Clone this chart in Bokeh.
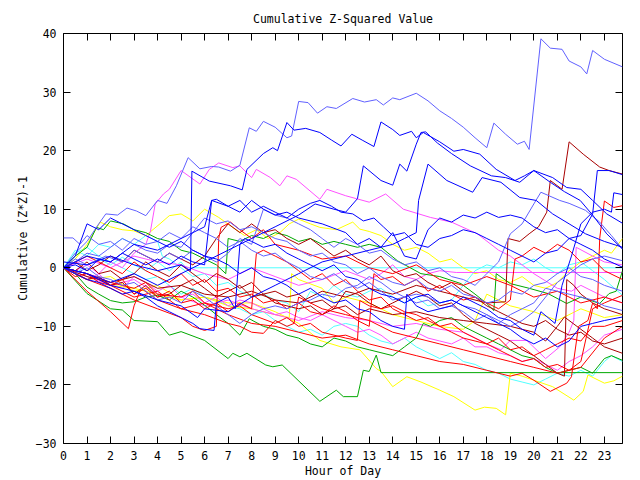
from bokeh.plotting import figure
from bokeh.models import Range1d, FixedTicker, LinearAxis
from bokeh.embed import file_html
from bokeh.resources import INLINE

# ---------------- data (hour of day, cumulative z^2-1) ----------------
hour_ticks = list(range(24))
value_ticks = [-30, -20, -10, 0, 10, 20, 30, 40]
x_start, x_end = 0, 23.77
y_start, y_end = -30, 40

lb1_h = [0, 0.5, 1, 1.5, 1.8, 2.3, 2.7, 3.1, 3.5, 4.0, 4.4, 4.8, 5.3, 5.8, 6.3, 6.6, 7.1, 7.5, 7.9, 8.2, 8.5, 9.0, 9.5, 9.7, 10.0, 10.4, 10.8, 11.2, 11.6, 12.3, 12.8, 13.3, 13.6, 14.0, 14.3, 15.0, 15.5, 16.0, 16.5, 17.0, 17.5, 18.0, 18.3, 18.8, 19.3, 19.6, 19.8, 20.3, 20.7, 21.2, 21.5, 22.0, 22.25, 22.5, 23.0, 23.77]
lb1_v = [0, 2.5, 4.5, 7.5, 9.2, 9.0, 10.2, 9.7, 8.9, 11.5, 11, 14, 18.8, 16.9, 17.3, 17.2, 16.5, 17.5, 23.9, 23.3, 25, 24, 22.2, 22.5, 28.4, 28.2, 26.4, 27.5, 27.2, 28.9, 28.3, 28.7, 27.8, 29.0, 28.7, 29.8, 28.5, 26.8, 25.5, 24, 22.2, 20.5, 24.7, 22.8, 21.1, 21.6, 20.2, 39.1, 37.5, 37.3, 35.3, 34.3, 33.1, 37.1, 35.6, 34.3]

lb2_h = [0, 0.5, 1, 1.8, 2.5, 3, 3.5, 4, 4.5, 5, 5.5, 6, 6.5, 7, 7.5, 8, 8.5, 9, 9.5, 10, 10.5, 11, 11.5, 12, 12.5, 13, 13.5, 14, 14.5, 15, 15.5, 16, 16.5, 17, 17.5, 18, 18.5, 19, 19.5, 20, 20.3, 21.1, 21.5, 22.2, 22.8, 23.3, 23.77]
lb2_v = [0, 1.5, 0.5, 2, 1, 3, 2, 1, 2.5, 1.5, 3, 2, 1, 2.5, 5, 4, 10, 9, 8.5, 7.5, 6.5, 5, 3.5, 5, 4, 2.5, 3, 1.5, 0.5, 1, -0.5, 0, -1.5, -2, -3, -1, 1, 5.8, 7.5, 10.9, 12.9, 11.5, 11, 9.8, 7.8, 5.5, 3.2]

lb3_h = [0, 0.4, 0.7, 1, 1.5, 2, 2.5, 3, 3.5, 4, 4.5, 5, 5.5, 6, 6.5, 7, 7.5, 8, 8.5, 9, 9.5, 10, 10.5, 11, 11.5, 12, 12.5, 13, 13.5, 14, 14.5, 15, 15.5, 16, 16.5, 17, 17.5, 18, 18.5, 19, 19.5, 20, 20.5, 21, 21.5, 22, 22.5, 23, 23.77]
lb3_v = [5.1, 5.1, 4.0, 5.5, 4, 4.5, 3, 5, 4, 4.5, 6, 5, 7, 6, 5, 3.5, 4.5, 3, 2, 2.5, 1, 0, -1.5, -2, -1, -2.5, -3.5, -2.5, -4, -5.5, -5, -6, -5.5, -7, -6.5, -7.5, -9, -8, -9.5, -8, -7, -6, -3.5, -4, -4.5, -5, -5.5, -6.5, -7.3]

lb4_h = [0, 0.5, 1, 1.5, 2, 2.5, 3, 3.5, 4, 4.5, 5, 5.5, 6, 6.5, 7, 7.5, 8, 8.5, 9, 9.5, 10, 10.5, 11, 11.5, 12, 12.5, 13, 13.5, 14, 14.5, 15, 15.5, 16, 16.5, 17, 17.5, 18, 18.5, 19, 19.5, 20, 20.5, 21, 21.5, 22, 22.5, 23, 23.77]
lb4_v = [0, -1, 0, -1.5, -2, -3, -2.5, -4, -5.5, -5, -6, -4, -5, -6.5, -8, -9.5, -8, -7, -6.5, -7, -6, -5.5, -4.5, -5, -3.5, -3, -1.5, -2.5, -4, -5, -4.5, -5, -6, -5.5, -6.5, -7, -8, -9, -10, -9, -7.5, -5, -2.5, -1, 0.5, 1.5, 2, 1.2]

lb5_h = [0, 0.5, 1, 1.5, 2, 2.5, 3, 3.5, 4, 4.5, 5, 5.5, 6, 6.5, 7, 7.5, 8, 8.5, 9, 9.5, 10, 10.5, 11, 11.5, 12, 12.5, 13, 13.5, 14, 14.5, 15, 15.5, 16, 16.5, 17, 17.5, 18, 18.5, 19, 19.5, 20, 20.5, 21, 21.5, 22, 22.5, 23, 23.77]
lb5_v = [0, 1, 2.5, 2, 3.5, 5, 4, 3, 2.5, 4, 3.5, 6, 8.5, 7.5, 8, 6.5, 7, 6, 5, 4.5, 3, 2, 2.5, 1, 0.5, -1, 0, -1.5, -2.5, -3, -2, -3.5, -4, -3, -4.5, -5, -6, -5.5, -4, -4.5, -3, -2.5, -1, 0, -1.5, -2, -3, -4]

b1_h = [0, 1, 2, 3, 4, 5, 5.4, 5.46, 6.2, 7.1, 7.6, 7.8, 8.5, 8.9, 9.1, 9.5, 9.8, 10.3, 10.9, 11.4, 11.8, 12.26, 12.7, 13.2, 13.5, 14.0, 14.3, 14.8, 15.0, 15.3, 16.0, 16.6, 17.0, 17.7, 18.4, 19.2, 19.6, 20.0, 20.8, 21.4, 22.0, 22.5, 23.1, 23.77]
b1_v = [1, 0.5, 2, 0.5, -0.5, 0.5, -0.5, 16.5, 14.8, 14.0, 13.3, 16.8, 19.5, 20.5, 20, 24.8, 23.5, 23.8, 23.1, 21.8, 20.8, 22.8, 21.8, 20.7, 24.9, 23.6, 22.6, 23.3, 22.2, 23.1, 21.5, 19.9, 20.2, 19.4, 16.8, 14.9, 15.7, 16.6, 15.4, 13.7, 13.4, 11.5, 9.2, 7.6]

b2_h = [0, 1, 2, 3, 4, 5, 6, 7, 8, 9, 10, 10.7, 11.5, 12, 12.5, 12.75, 13.5, 14, 14.3, 14.6, 15, 15.2, 15.4, 15.9, 16.5, 17.3, 18.2, 18.8, 19.4, 20, 20.7, 21.3, 21.97, 22.5, 23.1, 23.77]
b2_v = [0, -1, -2.5, -1, -3, -1, 1, 3, 5, 7, 9, 10.9, 10, 9.5, 11.8, 17.4, 14.9, 14.1, 17.7, 16.5, 21.1, 23.1, 23.2, 21.3, 19.5, 17.4, 15.7, 15.4, 14.6, 16.6, 14.6, 13, 11.5, 9, 5.8, 3.2]

b3_h = [0, 1, 2, 3, 4, 5, 6, 6.3, 7, 7.5, 8, 8.5, 9, 9.5, 10, 11, 12, 12.5, 13, 13.5, 14, 14.5, 15, 15.5, 16, 16.5, 17, 17.5, 18, 18.5, 19, 19.5, 20, 20.5, 21, 21.5, 22, 22.5, 22.7, 23.2, 23.77]
b3_v = [0, 2, 1, 4, 3, 5, 7, 11.5, 10.5, 9.5, 11.5, 10, 9, 9.5, 8.5, 7.5, 6, 4, 5, 3.5, 6, 2, 1.5, 6.5, 8.5, 7.8, 9, 8.5, 9.5, 8.6, 9, 8.5, 7, 6, 6.5, 5, 5.5, 9.2, 16.6, 16.6, 15.9]

b4_h = [0, 1, 2, 3, 4, 5, 5.7, 6, 7, 8, 9, 10, 11, 12, 13, 14, 14.5, 15, 15.1, 15.5, 16.3, 17.4, 17.8, 18.6, 19.4, 20.1, 20.8, 21.5, 22.2, 23, 23.77]
b4_v = [0, -1, -3, -4, -5.5, -6.5, -8.5, -7, -7.5, -5, -3, -1, 1, 2, 3, 4, 5, 6, 11.5, 17.7, 14.9, 12.9, 15.4, 14.6, 12, 11.5, 9.2, 7.5, 5.8, 4.5, 3.5]

b5_h = [0, 0.5, 1, 1.5, 2, 2.5, 3, 3.5, 4, 4.5, 5, 5.5, 6, 6.5, 7, 7.5, 8, 8.5, 9, 9.5, 10, 10.5, 11, 11.5, 12, 12.5, 13, 13.5, 14, 14.5, 14.6, 15, 15.5, 16, 16.5, 17, 17.5, 18, 18.5, 19, 19.5, 20, 20.3, 20.9, 21.2, 21.6, 22, 22.5, 23, 23.3, 23.4, 23.77]
b5_v = [0, 2, 7.5, 6.5, 8.5, 7.5, 6.5, 5.5, 4.5, 3.5, 4.5, 3, 2, 1.5, 0.5, -1, 0, -1.5, -2, -3, -4.5, -3.5, -5, -6, -5.5, -7, -7.5, -9, -10, -10.5, -4.5, -6.5, -7.5, -7, -6.5, -5, -6, -7, -8.5, -9, -10.5, -11.5, -7.5, -9.5, -3, 2, 7.5, 9.5, 10, 9.5, 12.8, 12.5]

b6_h = [0, 0.5, 1, 1.5, 2, 2.5, 3, 3.5, 4, 4.5, 5, 5.5, 5.8, 6.4, 6.5, 7, 7.3, 7.5, 7.7, 8, 8.5, 9, 9.5, 10, 10.5, 11, 11.5, 12, 12.5, 13, 13.5, 14, 14.5, 15, 15.5, 16, 16.5, 17, 17.5, 18, 18.5, 19, 19.5, 20, 20.5, 21, 21.5, 22, 22.5, 23, 23.77]
b6_v = [0, -1, -2, -2.5, -3.5, -4.5, -4, -5, -6.5, -7.5, -8.5, -9.5, -10.4, -10.7, -6, -5, -7, 4, 5, 4.5, 3.5, 4, 2.5, 1.5, 0.5, -0.5, 0.5, -1.5, -2, -3.5, -4.5, -5, -6, -5, -4.5, -6, -5.5, -6.5, -7.5, -8.5, -9.5, -10.5, -12, -13, -12, -13.5, -12.5, -10, -9.5, -9, -8.4]

b7_h = [0, 0.5, 1, 1.5, 2, 2.5, 3, 3.5, 4, 4.5, 5, 5.5, 6, 6.3, 6.5, 7, 7.5, 8, 8.5, 9, 9.5, 10, 10.5, 10.9, 11.4, 11.8, 12.3, 12.75, 13.2, 13.6, 14, 14.5, 15, 15.5, 16, 16.5, 17, 17.5, 18, 18.5, 19, 19.5, 20, 20.5, 21, 21.5, 22, 22.5, 23, 23.77]
b7_v = [0, 0.5, -0.5, 1.5, 1, 2.5, 1.5, 0.5, 1.5, 0.5, 2, 1, 0.5, 11.5, 11.7, 10.5, 11.5, 9.5, 10.5, 9.5, 8.5, 10, 11, 11.5, 10.5, 9.5, 9.2, 8, 8.5, 7, 5.5, 6, 4, 3.5, 5, 5.5, 6.5, 6, 5, 4, 3, 2, 1, 2.5, 3, 5, 4, 3, 1.5, 0.1]

r1_h = [0, 1, 2, 3, 4, 5, 6, 7, 8, 9, 10, 11, 12, 13, 14, 15, 16, 17, 18, 19, 19.5, 20, 20.7, 21.4, 21.6, 21.9, 22.3, 22.5, 22.7, 22.8, 23.0, 23.4, 23.77]
r1_v = [0, -1, -3, -5, -4, -7, -6, -8, -9.5, -10, -11, -12, -11.5, -13, -14, -15, -16, -16.5, -17.5, -18.5, -18, -19.2, -21.1, -19.7, -18.6, -10, -9, -6, -7, 5, 11.4, 10.3, 10.6]

r3_h = [0, 1, 2, 3, 4, 5, 5.5, 6, 6.5, 6.6, 6.7, 7.1, 7.5, 8, 8.5, 9, 10, 11, 12, 13, 14, 15, 16, 17, 18, 19, 20, 21, 22, 23, 23.77]
r3_v = [0, -2, -3.5, -5.5, -7, -8.5, -10, -10.7, -10, 5, 6.9, 7.8, 6.5, 5, 6.5, 4, 3, 1.5, 2, 0, -1, 0.5, -2, -3, -1.5, -3, -5, -4, -6, -5, -6]

r4_h = [0, 0.5, 1, 1.5, 2, 2.5, 3, 3.5, 4, 4.5, 5, 5.5, 6, 6.5, 7, 7.5, 8, 8.2, 8.5, 9, 9.5, 10, 10.5, 11, 11.5, 12, 12.5, 13, 13.5, 14, 14.5, 15, 15.5, 16, 16.5, 17, 17.5, 18, 18.5, 19, 19.5, 20, 20.5, 21, 21.5, 22, 22.5, 23, 23.77]
r4_v = [0, -1.5, -1, -2.5, -3, -2, -4.5, -3.5, -5, -4, -6, -5.5, -7, -6, -7.5, -6, -7, 2.4, 3, 2, 1, -0.5, -2, -1, -3, -2, -4, -5.5, -5, -7, -8, -9, -8.5, -10, -11, -12, -12.5, -13, -12, -14, -13.5, -15, -14, -13, -12, -12.5, -10, -10, -9]

r5_h = [0, 1, 2, 2.76, 3.0, 3.3, 4, 5, 6, 7, 7.5, 8, 8.5, 9, 9.5, 9.8, 10, 11, 12, 13, 14, 15, 16, 17, 18, 19, 20, 21, 22, 23, 23.77]
r5_v = [0, -4, -7.5, -10.4, -6.5, -3.5, -5.5, -7, -8, -9.5, -10, -11, -11.2, -9, -10, -9.5, -5, -7, -8, -9, -11, -12, -13, -14, -15, -16, -17, -18, -17, -12, -10]

r6_h = [0, 1, 2, 3, 3.5, 4, 5, 5.5, 6, 7, 7.5, 8, 9, 9.5, 10, 10.5, 11, 11.5, 12, 12.5, 12.6, 13, 13.5, 14, 14.5, 15, 15.5, 16, 16.5, 17, 17.5, 18, 18.5, 19, 19.5, 20, 20.5, 21, 21.5, 22, 22.5, 23, 23.77]
r6_v = [0, -1, -2.5, -3.5, -2.5, -4.5, -5, -4, -6, -7, -6.5, -8, -9.5, -8.5, -10, -9.5, -11, -11.5, -12, -12.4, -5.6, -6.5, -7, -6.5, -7.5, -8, -9, -10, -9.5, -11, -12, -13, -14, -15, -16, -15.5, -17, -16.5, -17.5, -16, -7, -6, -4.7]

r7_h = [0, 1, 1.5, 2, 2.5, 3, 3.5, 4, 4.5, 5, 5.5, 6, 6.5, 7, 7.5, 8, 8.5, 9, 9.5, 10, 10.5, 11, 11.5, 12, 12.5, 13, 13.2, 13.5, 14, 14.5, 15, 15.5, 16, 16.5, 17, 17.5, 18, 18.5, 19, 19.2, 19.5, 20, 20.5, 21, 21.5, 22, 22.5, 23, 23.77]
r7_v = [0, 2, 1, 0, -1, 1, -0.5, -1.5, -2.5, -1, -3, -2, -4, -3.5, -5, -4.5, -6, -5.5, -7, -6, -7.5, -8, -6.5, -7.5, -9, -10, -1, -2, -1.5, -3, -2, -4, -3, -4.5, -5.5, -5, -6, -7, -5.5, 1.5, 2, 3.5, 2.5, 4, 3, 1, 1.5, -0.5, -2]

dr1_h = [0, 1, 2, 3, 4, 5, 6, 7, 8, 9, 10, 11, 12, 13, 14, 15, 16, 17, 18, 18.8, 18.9, 19.4, 19.8, 20.2, 20.55, 20.7, 21.2, 21.5, 22.1, 22.8, 23.2, 23.77]
dr1_v = [0, -1.5, -2.5, -1.5, -3.5, -3, -4.5, -5, -4, -5.5, -6, -4, -5, -3.5, -4.5, -3, -4, -5, -6, -5.8, 5, 4.5, 5.8, 7, 9.5, 14.9, 13.4, 21.5, 19.4, 17.2, 16.6, 16.0]

dr2_h = [0, 0.5, 1, 1.5, 2, 2.5, 3, 3.5, 4, 4.5, 5, 5.5, 6, 6.5, 7, 7.5, 8, 8.5, 9, 9.5, 10, 10.5, 11, 11.5, 12, 12.5, 13, 14, 15, 16, 17, 18, 19, 20, 20.5, 21, 21.3, 22, 22.5, 23, 23.77]
dr2_v = [0, -0.5, 1, -1, -0.5, -2, -1, 1, -0.5, -1.5, 0.5, -1, -2.5, -1, -2, -3.5, -2.5, -4.5, -4, -5, -4.5, -6, -5.5, -7, -6.5, -8, -7, -8, -7.5, -8.5, -9, -9.5, -10, -11, -12.5, -10, -8.4, -10.5, -12, -13.5, -14.6]

dr3_h = [0, 0.5, 1, 1.5, 2, 2.5, 3, 3.5, 4, 4.5, 5, 5.5, 6, 6.5, 7, 7.5, 8, 8.5, 9, 9.5, 10, 10.5, 11, 11.5, 12, 12.5, 13, 13.5, 14, 14.5, 15, 15.5, 16, 16.5, 17, 17.5, 18, 18.5, 19, 19.5, 20, 20.5, 21, 21.3, 21.4, 21.7, 22, 22.5, 23, 23.77]
dr3_v = [0, -1, -2, -1.5, -3, -2.5, -4.5, -3, -5, -4.5, -3, -2, -3.5, -5, -4, -3, -5, -4.5, -6, -6.5, -7, -6.5, -8, -7, -4, -4.5, -6, -7, -6, -5, -4, -5, -6.5, -6, -8, -9.5, -10.5, -11.5, -12.5, -14, -15, -16.5, -18, -18.5, -2, -3, -4.5, -6, -7, -8]

dr4_h = [0, 0.5, 1, 1.5, 2, 2.5, 3, 3.5, 4, 4.5, 5, 5.5, 6, 6.5, 7, 7.5, 8, 8.5, 9, 9.5, 10, 10.5, 11, 11.5, 12, 12.5, 13, 13.5, 14, 14.5, 15, 15.5, 16, 16.5, 17, 17.5, 18, 18.5, 19, 19.5, 20, 20.5, 21, 21.5, 22, 22.5, 23, 23.77]
dr4_v = [0, 1, -0.5, 0.5, 2, 1, 3, 2, 1, 2.5, 1.5, 0.5, 2, 5, 7.5, 6, 7.5, 6, 6.5, 5, 4, 5, 3.5, 2, 3, 1.5, 0.5, 2, -0.5, -1.5, -1, -2.5, -3.5, -2.5, -4, -5, -6.5, -7.5, -8.5, -9.5, -10, -9, -10.5, -11.5, -11, -12.5, -13, -12]

g1_h = [0, 1, 2, 2.5, 3, 4, 4.5, 5, 6, 7, 7.2, 7.5, 7.8, 8.6, 8.9, 9.3, 10.9, 11.6, 11.9, 12.5, 12.75, 13.0, 13.3, 13.5, 23.77]
g1_v = [0, -4.4, -7, -7.2, -9, -9.2, -11.5, -10.9, -12.4, -15.5, -14.6, -15.2, -14.6, -16.6, -16.9, -16.6, -22.8, -20.9, -22, -22, -17.5, -17.7, -14.9, -17.9, -17.9]

g2_h = [0, 0.5, 1, 1.5, 2, 2.5, 3, 3.5, 4, 4.5, 5, 5.5, 6, 6.5, 7, 7.5, 7.9, 8.5, 9, 9.5, 10, 10.5, 11, 11.5, 12, 12.5, 13, 13.5, 14, 14.5, 15, 15.3, 15.6, 16, 16.5, 17, 17.5, 18, 18.5, 19, 19.5, 20, 20.5, 21, 21.5, 22, 22.5, 23, 23.3, 23.77]
g2_v = [0, -1, -3.3, -4.5, -5.6, -6, -5.8, -5, -4.7, -5.5, -4, -5, -6.4, -8, -9.5, -11.5, -8.7, -10, -10.5, -11.5, -12, -13, -13.5, -12, -12.5, -13.5, -14, -14.5, -15, -13.5, -12, -9.5, -10, -9, -8.5, -10, -11, -12, -13, -14, -15, -15.5, -17, -18, -17.5, -17, -18, -15.5, -15, -15.8]

g3_h = [0, 0.5, 1, 1.4, 1.7, 2, 2.55, 3, 3.5, 4, 4.5, 5, 5.5, 6, 6.5, 6.9, 7.0, 7.5, 8, 8.5, 9, 9.5, 10, 10.5, 11, 11.5, 12, 12.5, 13, 13.5, 14.2, 15.2, 16, 16.9, 17.5, 18, 18.3, 18.4, 19, 19.8, 20.6, 21.4, 22, 22.8, 23.2, 23.5, 23.77]
g3_v = [0, 2, 3.5, 6.9, 6.5, 8, 7.5, 6.5, 6, 5, 4.5, 3, 2.5, 1.5, 0.5, -1, 5, 4.5, 5.5, 5, 6, 5.5, 4.5, 5, 4, 4.5, 4, 3.5, 4, 3.5, 1.2, -1, -1.5, -2.7, -4.5, -6.1, -7.3, -1, -2.7, -3.5, -4.4, -6.1, -5, -6.1, -4.4, -4, -0.5]

m1_h = [0, 0.5, 1, 1.5, 2, 2.5, 3, 3.5, 3.7, 3.9, 4.25, 4.5, 5.0, 5.8, 6.2, 6.6, 7.2, 7.5, 8, 8.2, 8.8, 9.2, 9.5, 9.9, 10.9, 11.2, 12, 13, 13.7, 14.45, 15.6, 16.5, 17.6, 18.5, 19, 19.5, 20, 21, 21.6, 22, 23, 23.77]
m1_v = [0, -0.5, 0.5, -1, 1, 0, 2.5, 4, 6.3, 10.9, 12.6, 13.4, 16.6, 14.3, 16.8, 17.9, 17.1, 17.4, 15.4, 16.8, 15.4, 14, 15.7, 15.1, 11.7, 13.4, 12.3, 11.2, 12.6, 10, 8.6, 7.8, 5.8, 3, 2, 0.5, -1, -3.5, -4, -3, -5, -6]

m2_h = [0, 1, 2, 3, 4, 5, 6, 7, 8, 9, 10, 11, 12, 13, 14, 15, 16, 17, 18, 18.6, 19, 19.7, 20.5, 21.1, 21.5, 21.7, 21.8, 22.5, 23, 23.77]
m2_v = [0, -1.5, -3, -2, -4.5, -5, -6.5, -5.5, -7, -8, -9, -7.5, -8.5, -9, -10, -9.5, -10.5, -11, -13, -14, -12.4, -12.4, -15.5, -13.5, -11, -9, 3.5, 2, 1, 0.5]

m3_h = [0, 1, 2, 3, 4, 5, 6, 7, 8, 9, 10, 11, 12, 13, 13.5, 14, 14.5, 15, 15.5, 16, 16.7, 23.77]
m3_v = [0, 1.5, 0, 2, 1, 0.5, -1, -2, 0, -1.5, -3, -2, -0.5, -2, -1, 0.5, -1.5, -2, -1, -0.5, -0.8, -0.8]

m4_h = [0, 0.5, 1, 1.5, 2, 2.5, 3, 3.5, 4, 4.5, 5, 5.5, 6, 6.5, 7, 7.5, 8, 8.5, 9, 9.5, 10, 10.5, 11, 11.5, 12, 12.5, 13, 13.5, 14, 14.5, 15, 15.5, 16, 16.5, 17, 17.5, 18, 18.5, 19, 19.5, 20, 20.5, 21, 21.5, 22, 22.5, 23, 23.77]
m4_v = [0, -1, -2, -1, -3, -3.5, -1.5, -2.5, -4, -3, -5, -4.5, -6, -5, -6.5, -5.5, -6, -7, -8, -7.5, -8.5, -9, -8, -9, -10, -11, -10.5, -11.5, -13, -12, -11, -12, -12.5, -13, -12, -13.5, -13.5, -14.5, -15, -16, -15.5, -16.5, -17.5, -16, -15, -13.5, -11.5, -10.5]

c1_h = [0, 0.5, 1, 1.5, 2, 2.5, 3, 3.5, 4, 4.5, 5, 5.2, 23.77]
c1_v = [0, -1, 0.5, 1.5, 0.5, 1.8, 0.5, -0.5, 1, -0.5, 1, 0, 0]

c2_h = [0, 0.5, 1, 1.5, 2, 2.5, 3, 3.5, 4, 4.5, 5, 5.5, 6, 6.5, 7, 7.5, 8, 8.5, 9, 9.5, 10, 10.5, 11, 11.5, 12, 12.5, 13, 13.5, 14, 14.5, 15, 15.5, 16, 16.5, 17, 17.5, 18, 18.5, 19, 19.5, 20, 20.5, 21, 21.5, 22, 22.5, 23, 23.3, 23.77]
c2_v = [0, 2.5, 3.5, 2, 1, 0, -1, -2, -1.5, -3, -4.5, -3.5, -5, -5.5, -6.5, -7, -8, -7.5, -9, -10, -11, -10.5, -11.5, -10, -9.5, -10, -11.5, -12.5, -13, -12, -13.5, -14.5, -15.5, -14.5, -16, -16.5, -17.5, -18, -19, -19.5, -20, -19, -18, -18.5, -17.5, -18.5, -16, -15, -16]

c3_h = [0, 0.5, 1, 1.5, 2, 2.5, 3, 3.5, 4, 4.2, 4.5, 5, 5.5, 6, 6.5, 7, 7.5, 8, 8.5, 9, 9.5, 10, 10.5, 11, 11.5, 12, 12.5, 13, 13.5, 14, 14.5, 15, 15.5, 16, 16.5, 17, 17.5, 18, 18.5, 19, 19.5, 20, 20.5, 21, 21.5, 22, 22.5, 23, 23.77]
c3_v = [0, 3, 2, 4, 3.5, 5, 4, 5.5, 4.5, 2, 1.5, 0, -1.5, -1, -3, -2.5, -4, -5, -4.5, -5.5, -6, -7.5, -4, -5, -3, -4.5, -5, -4, -3.5, -5, -6, -5, -6.5, -6, -5.5, -3, -0.5, 0.5, 0, 1, 0.5, 1.5, 0, -1, 0.5, 1, -0.5, -2, -4.7]

y1_h = [0, 1, 2, 3, 4, 5, 6, 7, 8, 9, 10, 10.9, 11.8, 12.6, 13.3, 13.5, 14, 14.6, 15.2, 16, 16.6, 17.5, 17.9, 18.4, 18.8, 19, 19.5, 20, 20.8, 21.7, 22.1, 22.3, 23, 23.4, 23.77]
y1_v = [0, -1, -3, -3.5, -4.5, -5.5, -5, -6, -6, -7.5, -9.5, -12.4, -13.5, -14, -17.2, -17.7, -20.3, -18.6, -19.5, -20.9, -22, -24.3, -23.8, -24, -25.1, -18, -18.5, -19.2, -20.3, -22.6, -21.1, -18.3, -19.7, -19.3, -18.5]

y2_h = [0, 0.5, 1, 1.56, 2, 2.5, 3, 3.5, 4.1, 4.5, 5, 5.5, 6, 6.6, 7.2, 7.7, 8.2, 8.7, 9.2, 9.6, 10, 10.5, 10.9, 11.6, 12.3, 12.6, 13, 13.5, 14, 14.5, 15, 15.5, 16, 16.5, 17, 17.5, 18, 18.5, 19, 19.5, 20, 20.5, 21, 21.5, 22, 22.5, 23, 23.3, 23.77]
y2_v = [0, 1.5, 4, 7.8, 7, 6.5, 6.3, 5.5, 7.5, 8.9, 9.2, 8, 10, 8.6, 6.9, 5.5, 6.5, 5, 6, 7.5, 8.3, 7.5, 6.9, 6.5, 7.8, 6.6, 6.2, 5.5, 4, 3, 3.5, 2.5, 1, 1.5, 0, -1, -0.5, -2, -2.5, -1.5, -3, -3.5, -2.5, -0.5, 1, 2, 3, 2.5, 5]

y3_h = [0, 1, 2, 3, 4, 5, 6, 7, 8, 9, 9.6, 9.7, 10, 11, 11.5, 12, 13, 14, 15, 16, 17, 17.5, 18, 19, 20, 21, 22, 23, 23.77]
y3_v = [0, -2, -1.5, -4, -3, -5.5, -5, -6.5, -7, -8, -8.5, -1, -2, -3.5, -6, -5, -6, -8, -9, -10, -10.5, -9, -4.5, -6.5, -7.5, -9, -7, -8.5, -8]

# colours (gnuplot-like palette)
RED, DKRED, GREEN, BLUE = "#ff0000", "#a80000", "#00a800", "#0000ff"
LTBLUE, MAGENTA, CYAN, YELLOW = "#6060ff", "#ff50ff", "#50ffff", "#ffff00"

series = [
    (c1_h, c1_v, CYAN), (c2_h, c2_v, CYAN), (c3_h, c3_v, CYAN),
    (y1_h, y1_v, YELLOW), (y2_h, y2_v, YELLOW), (y3_h, y3_v, YELLOW),
    (m1_h, m1_v, MAGENTA), (m2_h, m2_v, MAGENTA), (m3_h, m3_v, MAGENTA), (m4_h, m4_v, MAGENTA),
    (g1_h, g1_v, GREEN), (g2_h, g2_v, GREEN), (g3_h, g3_v, GREEN),
    (dr1_h, dr1_v, DKRED), (dr2_h, dr2_v, DKRED), (dr3_h, dr3_v, DKRED), (dr4_h, dr4_v, DKRED),
    (r1_h, r1_v, RED), (r3_h, r3_v, RED), (r4_h, r4_v, RED), (r5_h, r5_v, RED), (r6_h, r6_v, RED), (r7_h, r7_v, RED),
    (lb1_h, lb1_v, LTBLUE), (lb2_h, lb2_v, LTBLUE), (lb3_h, lb3_v, LTBLUE), (lb4_h, lb4_v, LTBLUE), (lb5_h, lb5_v, LTBLUE),
    (b1_h, b1_v, BLUE), (b2_h, b2_v, BLUE), (b3_h, b3_v, BLUE), (b4_h, b4_v, BLUE),
    (b5_h, b5_v, BLUE), (b6_h, b6_v, BLUE), (b7_h, b7_v, BLUE),
]

FONT = "DejaVu Sans Mono"
FS = "11.5px"
TICK_LEN = 7

p = figure(width=640, height=480, output_backend="svg", toolbar_location=None,
           x_range=Range1d(x_start, x_end), y_range=Range1d(y_start, y_end),
           min_border_left=63, min_border_right=18, min_border_top=33, min_border_bottom=36,
           title="Cumulative Z-Squared Value")
p.title.align = "center"
p.title.text_font = FONT
p.title.text_font_size = FS
p.title.text_font_style = "normal"
p.title.text_color = "black"
p.title.standoff = 15
p.grid.visible = False
p.outline_line_color = "black"
p.outline_line_width = 1
p.background_fill_color = "white"
p.border_fill_color = "white"

for hs, vs, col in series:
    p.line(hs, vs, line_color=col, line_width=1)


def style_axis(ax, labels=True):
    ax.axis_line_color = None
    ax.major_tick_in = TICK_LEN
    ax.major_tick_out = 0
    ax.minor_tick_line_color = None
    ax.major_tick_line_color = "black"
    ax.major_label_text_font = FONT
    ax.major_label_text_font_size = FS if labels else "0px"
    ax.major_label_text_color = "black"
    ax.major_label_standoff = 7 if labels else 0
    ax.axis_label_text_font = FONT
    ax.axis_label_text_font_size = FS
    ax.axis_label_text_font_style = "normal"
    ax.axis_label_text_color = "black"
    ax.axis_label_standoff = 3


p.xaxis.ticker = FixedTicker(ticks=hour_ticks)
p.yaxis.ticker = FixedTicker(ticks=value_ticks)
p.xaxis.axis_label = "Hour of Day"
p.yaxis.axis_label = "Cumulative (Z*Z)-1"
style_axis(p.xaxis[0])
style_axis(p.yaxis[0])
p.xaxis[0].axis_label_standoff = 1

# mirrored inward ticks on the top and right edges (gnuplot style)
top = LinearAxis(ticker=FixedTicker(ticks=hour_ticks))
right = LinearAxis(ticker=FixedTicker(ticks=value_ticks))
style_axis(top, labels=False)
style_axis(right, labels=False)
p.add_layout(top, "above")
p.add_layout(right, "right")

open("out.html", "w").write(file_html(p, INLINE))
